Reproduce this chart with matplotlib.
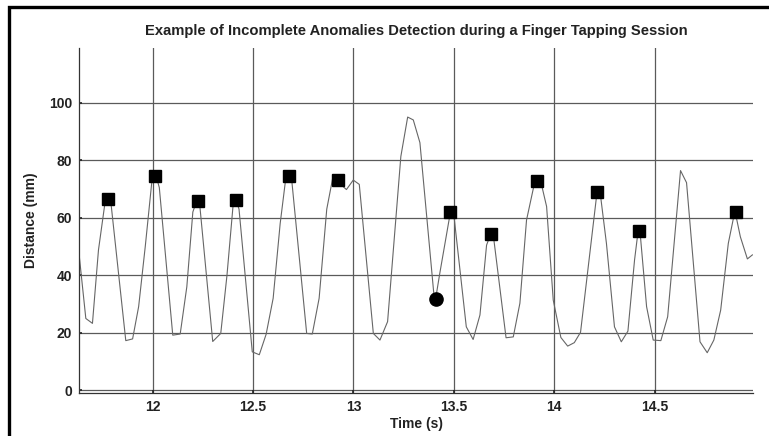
import matplotlib.pyplot as plt
from matplotlib.patches import Rectangle

# finger tapping trace, vertices
time_s = [11.633, 11.667, 11.700, 11.730, 11.765, 11.790, 11.866, 11.900, 11.930, 11.963,
          11.995, 12.016, 12.033, 12.100, 12.137, 12.170, 12.200, 12.219, 12.235, 12.299,
          12.339, 12.370, 12.400, 12.413, 12.430, 12.496, 12.531, 12.565, 12.600, 12.635,
          12.665, 12.690, 12.767, 12.795, 12.829, 12.867, 12.900, 12.930, 12.965, 12.999,
          13.029, 13.099, 13.132, 13.170, 13.236, 13.270, 13.298, 13.331, 13.405, 13.430,
          13.484, 13.500, 13.562, 13.596, 13.630, 13.663, 13.685, 13.700, 13.760, 13.796,
          13.829, 13.862, 13.904, 13.935, 13.962, 13.995, 14.033, 14.067, 14.100, 14.131,
          14.214, 14.230, 14.260, 14.300, 14.334, 14.367, 14.400, 14.418, 14.430, 14.460,
          14.493, 14.531, 14.565, 14.629, 14.659, 14.726, 14.762, 14.795, 14.829, 14.867,
          14.900, 14.927, 14.962, 14.987]
distance_mm = [47.6, 25.0, 23.3, 48.8, 66.5, 66.5, 17.3, 17.9, 29.1, 50.0,
               72.0, 74.8, 70.5, 19.2, 19.6, 36.0, 62.0, 65.8, 64.0, 17.0,
               19.8, 40.0, 64.0, 66.6, 63.0, 13.4, 12.4, 19.5, 32.0, 58.0,
               74.9, 74.9, 19.8, 19.6, 32.0, 63.0, 75.0, 72.0, 69.8, 73.1,
               71.6, 19.8, 17.5, 23.9, 81.3, 95.0, 94.0, 86.1, 30.0, 40.7,
               62.4, 61.0, 22.1, 17.7, 26.2, 50.5, 54.6, 52.0, 18.3, 18.6,
               30.3, 59.2, 72.8, 72.0, 63.9, 31.4, 18.4, 15.4, 16.6, 20.2,
               69.4, 68.0, 51.1, 22.1, 16.9, 20.6, 45.3, 55.5, 53.0, 29.1,
               17.5, 17.3, 25.6, 76.4, 72.2, 16.9, 13.1, 17.5, 27.9, 51.1,
               62.4, 53.4, 45.7, 47.1]

# detected taps (squares) and the missed one (circle)
tap_t = [11.775, 12.013, 12.224, 12.414, 12.678, 12.923, 13.482, 13.685, 13.915, 14.213, 14.421, 14.903]
tap_d = [66.5, 74.6, 65.8, 66.3, 74.6, 73.0, 62.0, 54.5, 72.8, 69.1, 55.4, 62.1]
miss_t = [13.411]
miss_d = [31.6]

xticks = [12, 12.5, 13, 13.5, 14, 14.5]
yticks = [0, 20, 40, 60, 80, 100]

plt.rcParams['font.family'] = ['Liberation Sans', 'DejaVu Sans']

fig = plt.figure(figsize=(7.69, 4.36), dpi=100)
ax = fig.add_axes([79 / 769, 1 - 393 / 436, 674 / 769, 345 / 436])

grid_col = '#5a5a5a'
for y in yticks:
    ax.axhline(y, color=grid_col, lw=0.9, zorder=1)
for x in xticks:
    ax.axvline(x, color=grid_col, lw=0.9, zorder=1)

ax.plot(time_s, distance_mm, color='#666666', lw=0.8, zorder=2)
ax.plot(tap_t, tap_d, 's', color='black', ms=8.5, zorder=3)
ax.plot(miss_t, miss_d, 'o', color='black', ms=9.5, zorder=3)

ax.set_xlim(11.633, 14.99)
ax.set_ylim(-0.9, 119)
ax.set_xticks(xticks)
ax.set_xticklabels(['12', '12.5', '13', '13.5', '14', '14.5'])
ax.set_yticks(yticks)

for s in ['top', 'right']:
    ax.spines[s].set_visible(False)
for s in ['left', 'bottom']:
    ax.spines[s].set_color('#333333')
    ax.spines[s].set_linewidth(0.9)

ax.tick_params(direction='in', length=2, width=1.2, colors='#222222',
               labelsize=10, pad=5)
for lab in ax.get_xticklabels() + ax.get_yticklabels():
    lab.set_fontweight('bold')
    lab.set_color('#222222')

ax.set_title('Example of Incomplete Anomalies Detection during a Finger Tapping Session',
             fontsize=10.6, fontweight='bold', color='#222222', pad=9)
ax.set_xlabel('Time (s)', fontsize=10, fontweight='bold', color='#222222', labelpad=2)
ax.set_ylabel('Distance (mm)', fontsize=10, fontweight='bold', color='#222222', labelpad=8)

# outer black frame of the figure
fig.patches.append(Rectangle((9 / 769, -0.1), 1.1, 1.1 - 7 / 436, transform=fig.transFigure,
                             fill=False, edgecolor='black', lw=2.4))

fig.savefig('out.png', dpi=100)
